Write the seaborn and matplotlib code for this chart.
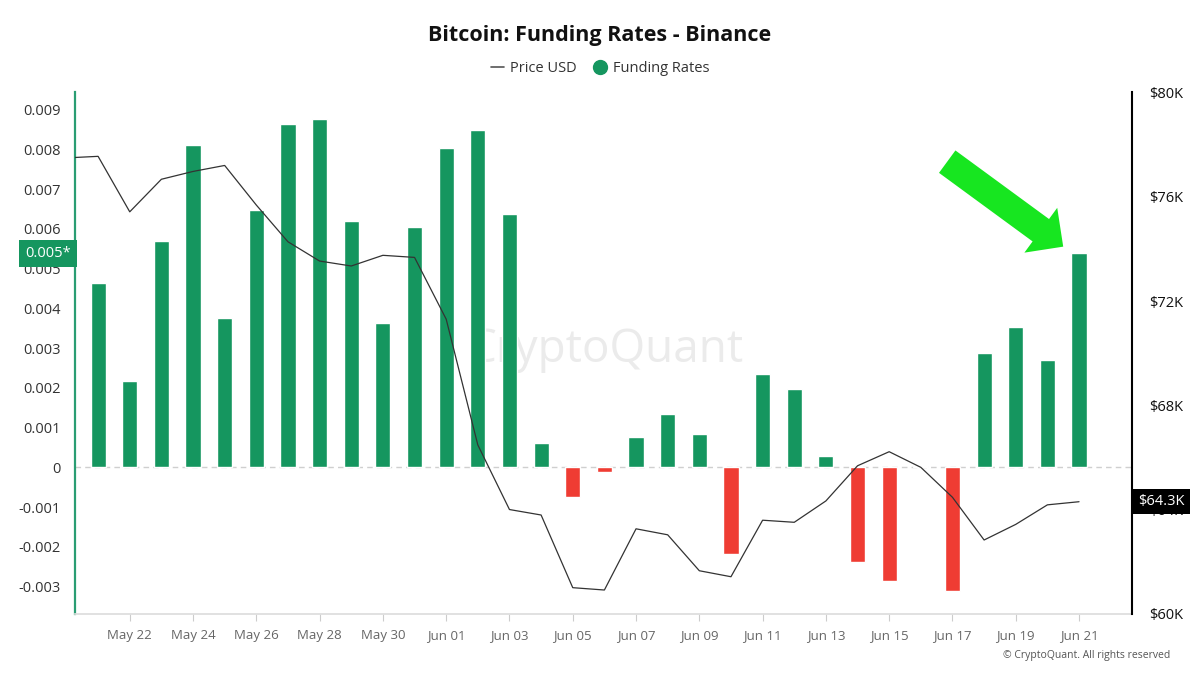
import numpy as np
import pandas as pd
import matplotlib
matplotlib.use('Agg')
import matplotlib.pyplot as plt
import matplotlib.transforms as mtransforms
from matplotlib.lines import Line2D
import seaborn as sns

# daily funding rates, May 21 - Jun 21
day_labels = ['May 21', 'May 22', 'May 23', 'May 24', 'May 25', 'May 26', 'May 27', 'May 28',
              'May 29', 'May 30', 'May 31', 'Jun 01', 'Jun 02', 'Jun 03', 'Jun 04', 'Jun 05',
              'Jun 06', 'Jun 07', 'Jun 08', 'Jun 09', 'Jun 10', 'Jun 11', 'Jun 12', 'Jun 13',
              'Jun 14', 'Jun 15', 'Jun 16', 'Jun 17', 'Jun 18', 'Jun 19', 'Jun 20', 'Jun 21']
funding = [0.00464, 0.00218, 0.00569, 0.00810, 0.00376, 0.00648, 0.00864, 0.00875,
           0.00620, 0.00362, 0.00605, 0.00804, 0.00848, 0.00637, 0.00060, -0.00074,
           -0.00012, 0.00077, 0.00133, 0.00083, -0.00218, 0.00235, 0.00196, 0.00028,
           -0.00239, -0.00286, 0.00003, -0.00312, 0.00287, 0.00353, 0.00270, 0.00538]

# price starts one day earlier (May 20), gets clipped at the left edge
price = [77500, 77560, 75430, 76680, 76980, 77210, 75690, 74280, 73540, 73350, 73760,
         73680, 71310, 66480, 64000, 63790, 61000, 60910, 63260, 63030, 61650, 61420,
         63590, 63510, 64330, 65680, 66220, 65620, 64470, 62830, 63430, 64180, 64300]

left_ticks = [-0.003, -0.002, -0.001, 0, 0.001, 0.002, 0.003, 0.004, 0.005, 0.006, 0.007, 0.008, 0.009]
right_ticks = [60000, 64000, 68000, 72000, 76000, 80000]

GREEN = '#15965f'
RED = '#ef3c33'
ARROW = '#17e620'

df = pd.DataFrame({
    'pos': np.arange(len(funding)),
    'rate': funding,
    'sign': ['pos' if v >= 0 else 'neg' for v in funding],
})
df_price = pd.DataFrame({'pos': np.arange(-1, len(funding)), 'price': price})

sns.set_theme(style='white')
plt.rcParams['font.family'] = ['Open Sans', 'DejaVu Sans']

fig = plt.figure(figsize=(12, 6.75), dpi=100)
ax = fig.add_axes([0.0625, 0.0904, 0.881, 0.7733])
ax2 = ax.twinx()

# watermark behind the bars
ax.text(0.502, 0.506, 'CryptoQuant', transform=ax.transAxes, ha='center', va='center',
        fontsize=33, color='#ebebeb', zorder=0)

sns.barplot(data=df, x='pos', y='rate', hue='sign', palette={'pos': GREEN, 'neg': RED},
            dodge=False, width=0.48, native_scale=True, saturation=1, legend=False, ax=ax)
ax.axhline(0, ls=(0, (4, 3)), color='#cfcfcf', lw=1, zorder=0.5)

sns.lineplot(data=df_price, x='pos', y='price', color='#333333', lw=0.9, ax=ax2)

ax.set_xlim(-0.73, 32.68)
ax.set_ylim(-0.00369, 0.00944)
ax2.set_ylim(59990, 80030)

ax.set_xticks(range(1, len(funding), 2))
ax.set_xticklabels(day_labels[1::2])
ax.set_yticks(left_ticks)
ax.set_yticklabels(['0' if v == 0 else f'{v:.3f}' for v in left_ticks])
ax2.set_yticks(right_ticks)
ax2.set_yticklabels([f'${v // 1000}K' for v in right_ticks])

ax.set_xlabel('')
ax.set_ylabel('')
ax2.set_xlabel('')
ax2.set_ylabel('')

ax.tick_params(axis='x', length=5, width=0.8, color='#cccccc', labelcolor='#666666',
               labelsize=9.5, pad=6, bottom=True)
ax.tick_params(axis='y', length=0, labelcolor='#333333', labelsize=10.5, pad=10)
ax2.tick_params(axis='y', length=0, labelcolor='#111111', labelsize=10.5, pad=12)

for s in ['top', 'right']:
    ax.spines[s].set_visible(False)
ax.spines['left'].set_color('#2a9d73')
ax.spines['left'].set_linewidth(1.6)
ax.spines['bottom'].set_color('#dddddd')
for s in ['top', 'left', 'bottom']:
    ax2.spines[s].set_visible(False)
ax2.spines['right'].set_color('black')
ax2.spines['right'].set_linewidth(1.5)

# value badges on both axes (the price badge sits over the $64K label, as in the source)
left_trans = mtransforms.blended_transform_factory(ax.transAxes, ax.transData)
ax.text(-0.004, funding[-1], '0.005*', transform=left_trans, ha='right', va='center',
        color='white', fontsize=10.5, bbox=dict(boxstyle='square,pad=0.4', fc=GREEN, ec='none'),
        clip_on=False)
right_trans = mtransforms.blended_transform_factory(ax2.transAxes, ax2.transData)
ax2.text(1.006, price[-1], f'${price[-1] / 1000:.1f}K', transform=right_trans, ha='left',
         va='center', color='white', fontsize=10.5, zorder=5,
         bbox=dict(boxstyle='square,pad=0.35', fc='black', ec='none'), clip_on=False)

# big green arrow pointing at the last bar
ax.annotate('', xy=(30.5, 0.00555), xycoords='data', xytext=(-116, 85), textcoords='offset pixels',
            arrowprops=dict(arrowstyle='simple,head_length=1.0,head_width=2.0,tail_width=1.0',
                            fc=ARROW, ec='none', mutation_scale=20, shrinkA=0, shrinkB=0))

fig.text(0.5, 0.948, 'Bitcoin: Funding Rates - Binance', ha='center', va='center',
         fontsize=15.5, fontweight='bold', color='#111111')

handles = [Line2D([0], [0], color='#555555', lw=1.2),
           Line2D([0], [0], marker='o', color='none', markerfacecolor=GREEN,
                  markeredgecolor=GREEN, markersize=10)]
fig.legend(handles, ['Price USD', 'Funding Rates'], loc='center', bbox_to_anchor=(0.5, 0.899),
           ncol=2, frameon=False, fontsize=10.5, handlelength=0.9, columnspacing=1.2,
           handletextpad=0.4, labelcolor='#333333')

fig.text(0.975, 0.0296, '© CryptoQuant. All rights reserved', ha='right', va='center',
         fontsize=7.5, color='#555555')

plt.savefig('out.png', dpi=100)
